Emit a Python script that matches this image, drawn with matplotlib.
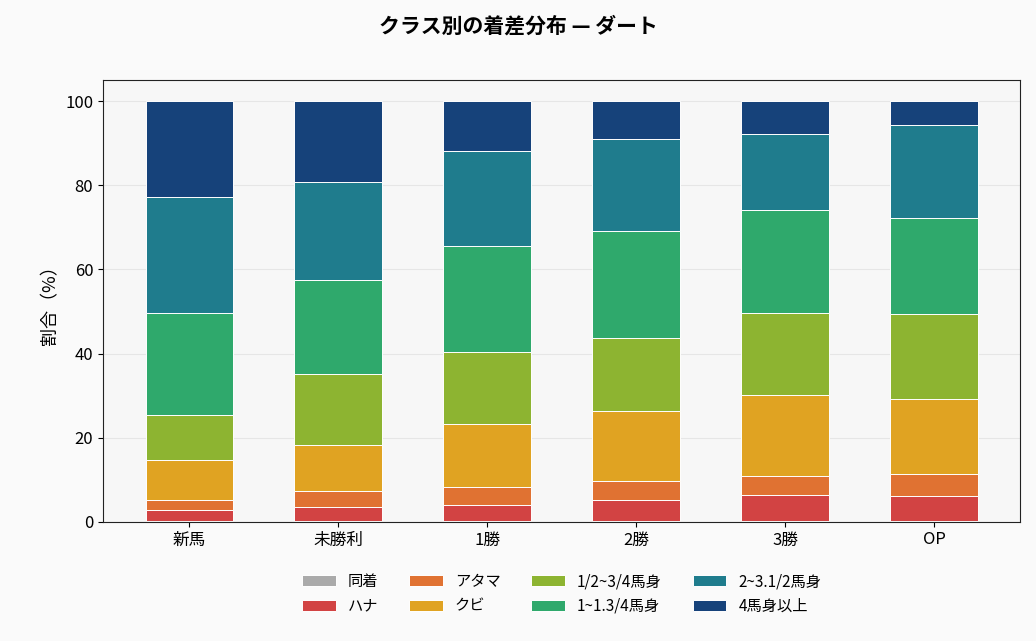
import matplotlib
matplotlib.use("Agg")
import matplotlib.pyplot as plt
import numpy as np

plt.rcParams['font.family'] = ['Noto Sans CJK JP', 'DejaVu Sans']

classes = ["新馬", "未勝利", "1勝", "2勝", "3勝", "OP"]
margins = ["同着", "ハナ", "アタマ", "クビ", "1/2~3/4馬身", "1~1.3/4馬身", "2~3.1/2馬身", "4馬身以上"]
colors = ["#aaaaaa", "#d24343", "#e07232", "#e0a322", "#8db431", "#2fa96c", "#1f7c8d", "#16427a"]

doukaku = [0.3, 0.3, 0.3, 0.3, 0.3, 0.3]
hana = [2.55, 3.3, 3.7, 4.9, 6.1, 5.9]
atama = [2.35, 3.8, 4.3, 4.5, 4.5, 5.2]
kubi = [9.5, 10.9, 15.0, 16.7, 19.3, 17.8]
half = [10.7, 16.9, 17.1, 17.3, 19.4, 20.2]
one = [24.2, 22.3, 25.2, 25.4, 24.5, 22.8]
two = [27.6, 23.3, 22.5, 21.9, 18.1, 22.1]
four = [22.8, 19.2, 11.9, 9.0, 7.8, 5.7]
series = [doukaku, hana, atama, kubi, half, one, two, four]

fig, ax = plt.subplots(figsize=(10.36, 6.41), dpi=100)
fig.patch.set_facecolor("#fafafa")
ax.set_facecolor("#f7f7f7")
x = np.arange(len(classes))
bottom = np.zeros(len(classes))
for name, vals, c in zip(margins, series, colors):
    ax.bar(x, vals, 0.59, bottom=bottom, color=c, label=name, edgecolor="white", linewidth=0.7)
    bottom += np.array(vals)

ax.set_xticks(x)
ax.set_xticklabels(classes, fontsize=12)
ax.set_ylim(0, 105)
ax.set_xlim(-0.58, 5.58)
ax.set_yticks([0, 20, 40, 60, 80, 100])
ax.tick_params(axis='y', labelsize=12)
ax.set_ylabel("割合（%）", fontsize=13)
ax.grid(axis='y', color="#e6e6e6", linewidth=0.8)
ax.set_axisbelow(True)
for s in ax.spines.values():
    s.set_color("#222222")
fig.suptitle("クラス別の着差分布 — ダート", fontsize=15, fontweight="bold", y=0.975)
ax.legend(loc="upper center", bbox_to_anchor=(0.5, -0.085), ncol=4, frameon=False, fontsize=11,
          handlelength=2.2, columnspacing=2.0, labelspacing=0.5)
plt.subplots_adjust(left=0.0995, right=0.985, top=0.875, bottom=0.186)
fig.savefig("out.png", facecolor=fig.get_facecolor())
